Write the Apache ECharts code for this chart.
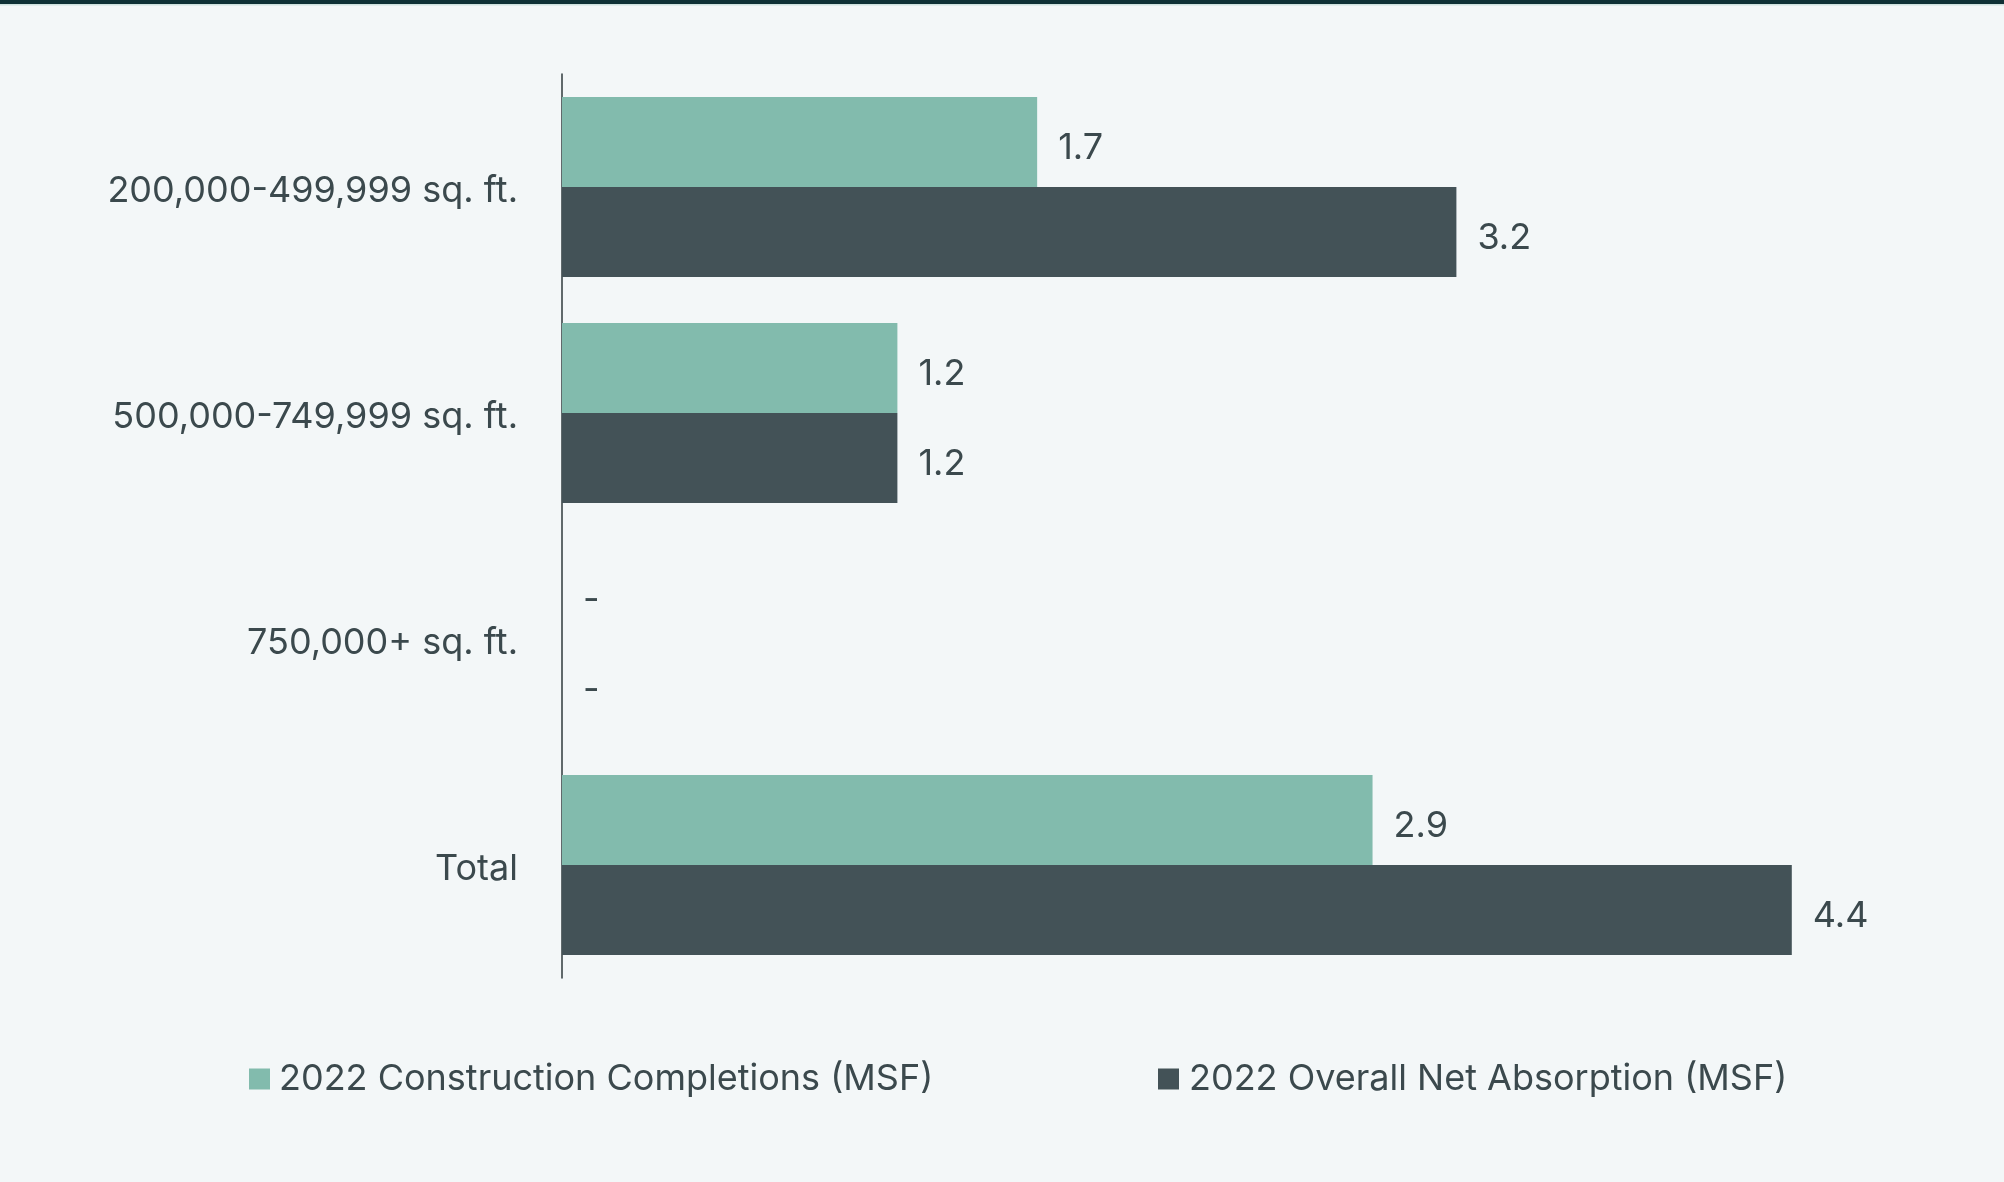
<!DOCTYPE html>
<html>
<head>
<meta charset="utf-8">
<style>
html,body{margin:0;padding:0;background:#f3f7f8;}
#chart{width:2004px;height:1182px;}
</style>
<script src="https://cdn.jsdelivr.net/npm/echarts@6/dist/echarts.min.js"></script>
</head>
<body>
<div id="chart"></div>
<script>
const categories = ['200,000-499,999 sq. ft.', '500,000-749,999 sq. ft.', '750,000+ sq. ft.', 'Total'];
const seriesNames = ['2022 Construction Completions (MSF)', '2022 Overall Net Absorption (MSF)'];
const completions = [1.7, 1.2, 0, 2.9];
const absorption = [3.2, 1.2, 0, 4.4];

const textColor = '#3b494d';
const fontFamily = 'Inter, Roboto, sans-serif';
const chart = echarts.init(document.getElementById('chart'));

const labelCfg = {
  show: true,
  position: 'right',
  distance: 21,
  offset: [0, 6],
  fontSize: 36,
  fontFamily: fontFamily,
  color: textColor,
  formatter: p => (p.value === 0 ? '-' : p.value.toFixed(1))
};

chart.setOption({
  backgroundColor: '#f3f7f8',
  animation: false,
  graphic: [
    { type: 'rect', shape: { x: 0, y: 0, width: 2004, height: 4 }, style: { fill: '#0f3136' } },
    { type: 'rect', shape: { x: 0, y: 4, width: 2004, height: 1.5 }, style: { fill: '#cfe2df' } }
  ],
  legend: [
    {
      data: [seriesNames[0]],
      left: 249, top: 1061, padding: 0,
      icon: 'rect', itemWidth: 21, itemHeight: 21,
      textStyle: { fontSize: 36, fontFamily: fontFamily, color: textColor, padding: [0, 0, 0, 4] }
    },
    {
      data: [seriesNames[1]],
      left: 1158, top: 1061, padding: 0,
      icon: 'rect', itemWidth: 21, itemHeight: 21,
      textStyle: { fontSize: 36, fontFamily: fontFamily, color: textColor, padding: [0, 0, 0, 5] }
    }
  ],
  grid: { left: 562, top: 74, width: 1397.5, height: 904, containLabel: false },
  xAxis: {
    type: 'value', min: 0, max: 5,
    axisLine: { show: false }, axisTick: { show: false },
    axisLabel: { show: false }, splitLine: { show: false }
  },
  yAxis: {
    type: 'category', data: categories, inverse: true,
    axisLine: { show: true, lineStyle: { color: '#2f3a3c', width: 1.5 } },
    axisTick: { show: false },
    axisLabel: {
      margin: 44, fontSize: 36, fontFamily: fontFamily, color: textColor,
      formatter: v => '{c|' + v + '}',
      rich: { c: { fontSize: 36, fontFamily: fontFamily, color: textColor, padding: [9, 0, 0, 0] } }
    }
  },
  series: [
    {
      name: seriesNames[0], type: 'bar', data: completions,
      barWidth: 90, barGap: '0%',
      itemStyle: { color: '#82bbad' },
      label: labelCfg
    },
    {
      name: seriesNames[1], type: 'bar', data: absorption,
      barWidth: 90,
      itemStyle: { color: '#435257' },
      label: labelCfg
    }
  ]
});
</script>
</body>
</html>
